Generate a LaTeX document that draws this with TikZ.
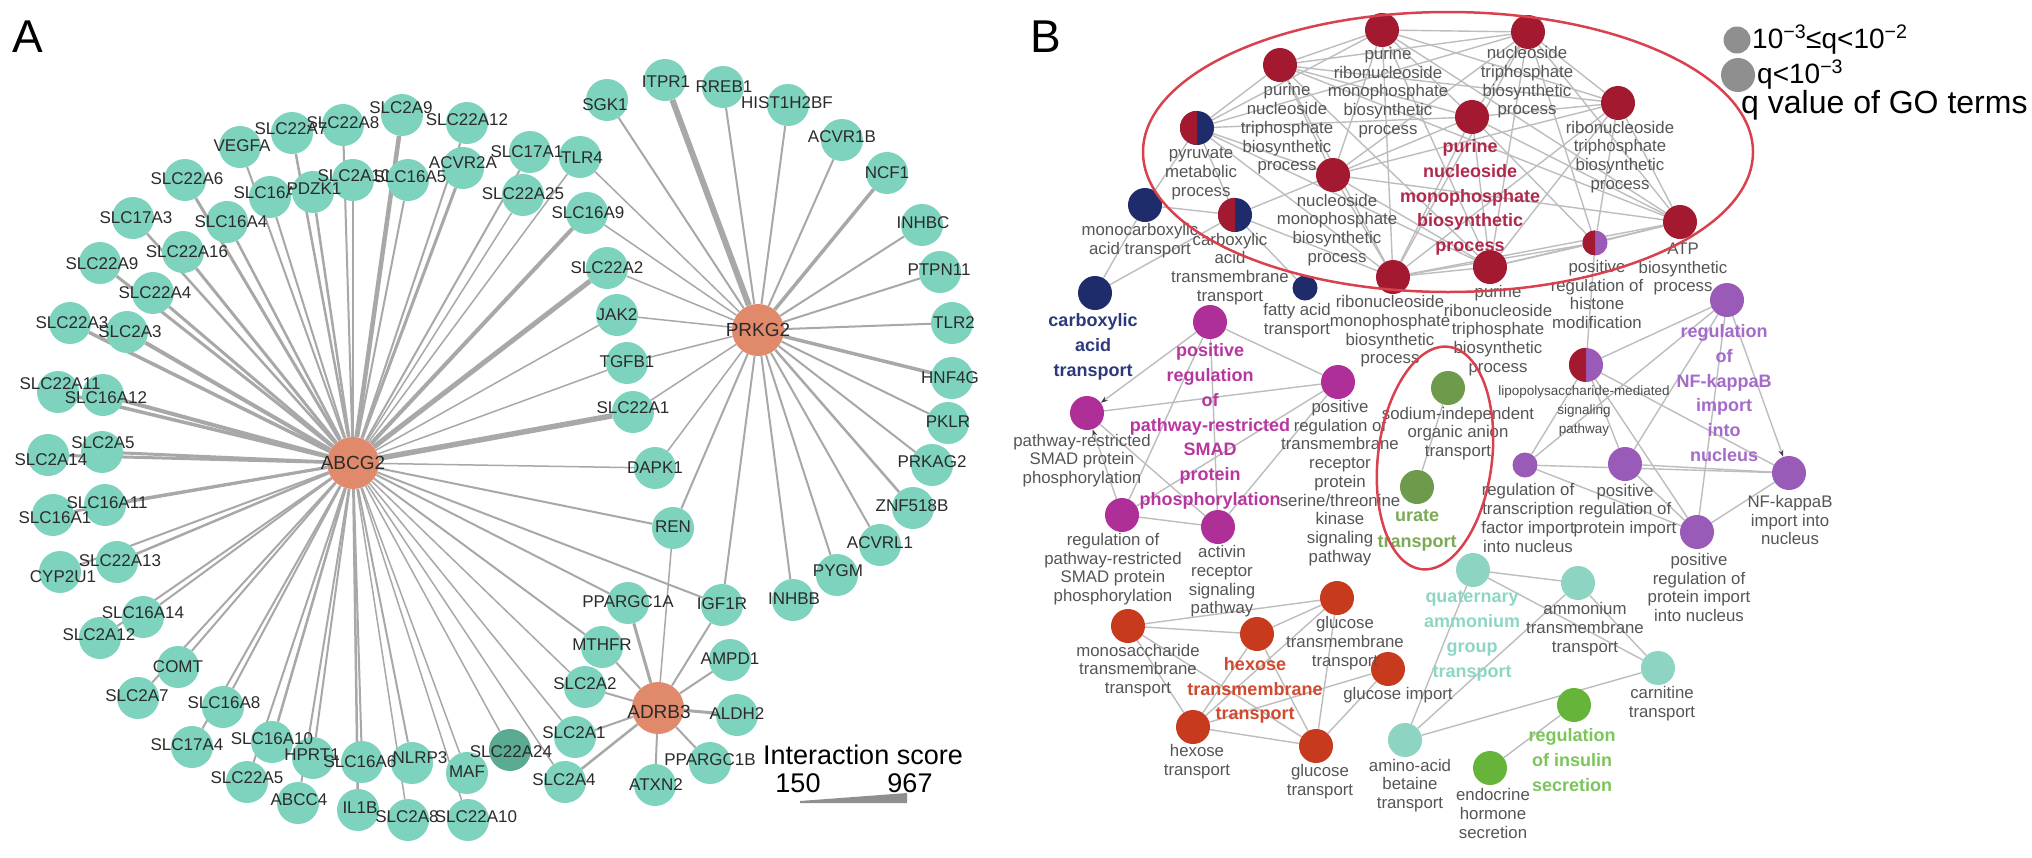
\documentclass[tikz,border=0pt]{standalone}
\usepackage{fontspec}
\setmainfont{Liberation Sans}
\usetikzlibrary{backgrounds,arrows.meta}
\pgfdeclarelayer{background}
\pgfdeclarelayer{foreground}
\pgfsetlayers{background,main,foreground}
\definecolor{tealA}{HTML}{7DD3BD}
\definecolor{tealD}{HTML}{5BAA93}
\definecolor{hubO}{HTML}{E0896B}
\definecolor{gtxt}{HTML}{2B2B2B}
\definecolor{edgeA}{HTML}{A8A8A8}
\definecolor{edgeB}{HTML}{BDBDBD}
\definecolor{lgray}{HTML}{555555}
\definecolor{dred}{HTML}{A3192F}
\definecolor{navyB}{HTML}{1F2C6B}
\definecolor{magB}{HTML}{AE2F97}
\definecolor{purB}{HTML}{9A5AB8}
\definecolor{oliveB}{HTML}{6E9A4B}
\definecolor{greenB}{HTML}{66B53A}
\definecolor{tealB}{HTML}{8ED4C3}
\definecolor{orB}{HTML}{C83A1E}
\definecolor{ellR}{HTML}{D9414E}
\definecolor{legG}{HTML}{8F8F8F}
\definecolor{tR}{HTML}{B1294A}
\definecolor{tN}{HTML}{2C3A7C}
\definecolor{tM}{HTML}{B7379F}
\definecolor{tP}{HTML}{A46BC9}
\definecolor{tG}{HTML}{7BA955}
\definecolor{tO}{HTML}{D04A2F}
\definecolor{tT}{HTML}{8DD6C4}
\definecolor{tGb}{HTML}{7CC55A}
% gene node with label on top layer: name, node position, label position
\newcommand\gnl[3]{\node[gene] (#1) at (#2) {};%
  \begin{pgfonlayer}{foreground}\node[glab] at (#3) {#1};\end{pgfonlayer}}
% gene node whose label may be covered by later circles
\newcommand\gnm[3]{\node[gene] (#1) at (#2) {}; \node[glab] at (#3) {#1};}
\begin{document}
\begin{tikzpicture}[x=1pt,y=-1pt,
 gene/.style={circle,fill=tealA,minimum size=42pt,inner sep=0pt},
 hub/.style={circle,fill=hubO,minimum size=52pt,inner sep=0pt},
 glab/.style={font=\fontsize{17}{17}\selectfont,text=gtxt,inner sep=0pt},
 hlab/.style={font=\fontsize{19}{19}\selectfont,text=gtxt,inner sep=0pt},
 ae/.style={draw=edgeA},
 gon/.style={circle,minimum size=34pt,inner sep=0pt},
 gos/.style={circle,minimum size=25pt,inner sep=0pt},
 lab/.style={align=center,font=\fontsize{16.8}{18.7}\selectfont,text=lgray,inner sep=0pt},
 blab/.style={align=center,font=\bfseries\fontsize{18}{24.8}\selectfont,inner sep=0pt},
 be/.style={draw=edgeB,line width=1.4pt},
 arr/.style={draw=edgeB,line width=1.4pt,-{Stealth[length=7pt,width=5pt,color=black!75]}}
]
\useasboundingbox (0,0) rectangle (2032,857);
% ---------------- Panel A ----------------
\node[font=\fontsize{46}{46}\selectfont] (labA) at (28,37) {A};
\node[font=\fontsize{46}{46}\selectfont] (labB) at (1046,37) {B};
% outer ring
\gnl{SLC22A9}{100,263}{102,264}
\gnl{SLC22A3}{70,323}{72,323}
\gnl{SLC22A11}{58,392}{60,384}
\gnl{SLC2A14}{48,455}{51,460}
\gnl{SLC16A1}{53,515}{55,518}
\gnl{CYP2U1}{60,572}{63,577}
\gnl{SLC2A12}{100,638}{99,635}
\gnl{SLC2A7}{138,698}{137,696}
\gnl{SLC17A4}{192,747}{187,745}
\gnl{SLC22A5}{247,782}{247,778}
\gnl{ABCC4}{298,803}{299,800}
\gnl{IL1B}{358,810}{360,808}
\gnl{SLC2A8}{408,820}{407,817}
\gnl{SLC22A10}{468,820}{476,817}
\gnl{SLC17A3}{133,218}{136,218}
\gnl{SLC22A6}{185,180}{187,179}
\gnl{VEGFA}{240,147}{242,146}
\gnl{SLC22A7}{292,133}{291,129}
\gnl{SLC22A8}{343,125}{343,123}
\gnl{SLC2A9}{402,115}{401,108}
\gnl{SLC22A12}{467,123}{467,120}
% inner ring
\gnl{SLC22A16}{183,252}{187,252}
\gnl{SLC22A4}{153,293}{155,293}
\gnl{SLC2A3}{127,332}{130,332}
\gnl{SLC16A12}{103,395}{106,398}
\gnl{SLC2A5}{102,452}{103,443}
\gnl{SLC16A11}{105,505}{107,503}
\gnl{SLC22A13}{117,562}{120,561}
\gnl{SLC16A14}{143,617}{143,613}
\gnl{COMT}{178,667}{178,667}
\gnl{SLC16A8}{223,707}{224,703}
\gnl{SLC16A10}{272,742}{272,739}
\gnl{HPRT1}{313,758}{312,755}
\gnl{SLC16A6}{362,762}{360,762}
\gnl{NLRP3}{412,763}{420,758}
\gnl{MAF}{467,773}{467,772}
\node[gene,fill=tealD] (SLC22A24) at (510,750) {};
\begin{pgfonlayer}{foreground}\node[glab] at (511,752) {SLC22A24};\end{pgfonlayer}
\gnl{SLC16A4}{227,222}{231,222}
\gnm{SLC16A3}{270,197}{270,193}
\gnl{PDZK1}{313,192}{314,189}
\gnm{SLC2A10}{353,180}{354,176}
\gnl{SLC16A5}{408,180}{410,177}
\gnl{ACVR2A}{463,168}{463,163}
\gnl{SLC17A1}{530,152}{527,152}
\gnl{SLC22A25}{523,195}{523,194}
\gnl{TLR4}{580,157}{582,158}
\gnl{SLC16A9}{587,213}{588,213}
\gnl{SLC22A2}{607,268}{607,268}
% PRKG2 ring
\gnl{SGK1}{607,100}{605,105}
\gnl{ITPR1}{665,80}{666,82}
\gnl{RREB1}{723,87}{724,87}
\gnl{HIST1H2BF}{788,105}{787,103}
\gnl{ACVR1B}{842,140}{842,137}
\gnl{NCF1}{887,173}{887,173}
\gnl{INHBC}{922,225}{923,223}
\gnl{PTPN11}{940,272}{939,270}
\gnl{TLR2}{952,323}{954,323}
\gnl{HNF4G}{952,378}{950,378}
\gnl{PKLR}{948,423}{948,422}
\gnl{PRKAG2}{932,465}{932,462}
\gnl{ZNF518B}{913,508}{912,506}
\gnl{ACVRL1}{880,545}{880,543}
\gnl{PYGM}{837,575}{838,571}
\gnl{INHBB}{793,600}{794,599}
\gnl{JAK2}{617,315}{617,315}
\gnl{TGFB1}{627,363}{627,362}
\gnl{SLC22A1}{633,412}{633,408}
\gnl{DAPK1}{655,468}{655,468}
\gnl{REN}{673,528}{673,527}
\gnl{IGF1R}{722,605}{722,604}
% ADRB3 ring
\gnl{PPARGC1A}{628,603}{628,602}
\gnl{MTHFR}{602,647}{602,645}
\gnl{AMPD1}{730,660}{730,659}
\gnl{SLC2A2}{585,687}{585,684}
\gnl{ALDH2}{737,715}{737,714}
\gnl{SLC2A1}{575,737}{574,733}
\gnl{PPARGC1B}{710,763}{710,760}
\gnl{SLC2A4}{565,782}{564,780}
\gnl{ATXN2}{655,785}{656,785}
% hubs
\node[hub] (ABCG2) at (353,463) {};
\node[hub] (PRKG2) at (758,330) {};
\node[hub] (ADRB3) at (658,708) {};
\begin{pgfonlayer}{foreground}
\node[hlab] at (ABCG2) {ABCG2};
\node[hlab] at (PRKG2) {PRKG2};
\node[hlab] at (659,712) {ADRB3};
\end{pgfonlayer}
% legend A
\node[font=\fontsize{27}{27}\selectfont,inner sep=0pt] (IS) at (863,755) {Interaction score};
\node[font=\fontsize{27}{27}\selectfont,inner sep=0pt] (s150) at (798,783) {150};
\node[font=\fontsize{27}{27}\selectfont,inner sep=0pt] (s967) at (910,783) {967};
\fill[legG] (800,801) -- (907,793) -- (907,803) -- (800,803) -- cycle;

% ---------------- Panel B nodes ----------------
\node[gon,fill=dred] (R1) at (1382,30) {};
\node[gon,fill=dred] (R2) at (1280,65) {};
\node[gon,fill=dred] (R3) at (1528,32) {};
\node[gon,fill=dred] (R4) at (1618,103) {};
\node[gon,fill=dred] (R5) at (1472,117) {};
\node[gon,fill=dred] (R6) at (1333,175) {};
\node[gon,fill=dred] (R7) at (1393,277) {};
\node[gon,fill=dred] (R8) at (1490,267) {};
\node[gon,fill=dred] (R9) at (1680,222) {};
\node[gon,fill=navyB] (S1) at (1197,128) {};
\fill[dred] (S1.north) arc[start angle=90,end angle=270,radius=17pt] -- cycle;
\node[gon,fill=navyB] (S2) at (1235,215) {};
\fill[dred] (S2.north) arc[start angle=90,end angle=270,radius=17pt] -- cycle;
\node[gos,fill=purB] (S3) at (1595,243) {};
\fill[dred] (S3.north) arc[start angle=90,end angle=270,radius=12.5pt] -- cycle;
\node[gon,fill=purB] (S4) at (1586,365) {};
\fill[dred] (S4.north) arc[start angle=90,end angle=270,radius=17pt] -- cycle;
\node[gon,fill=navyB] (MC) at (1145,205) {};
\node[gon,fill=navyB] (CA) at (1095,293) {};
\node[gos,fill=navyB] (FA) at (1305,288) {};
\node[gon,fill=magB] (M1) at (1210,322) {};
\node[gon,fill=magB] (M2) at (1338,382) {};
\node[gon,fill=magB] (M3) at (1087,413) {};
\node[gon,fill=magB] (M4) at (1122,515) {};
\node[gon,fill=magB] (M5) at (1218,527) {};
\node[gon,fill=oliveB] (G1) at (1448,388) {};
\node[gon,fill=oliveB] (G2) at (1417,487) {};
\node[gon,fill=purB] (P1) at (1727,300) {};
\node[gos,fill=purB] (P2) at (1525,465) {};
\node[gon,fill=purB] (P3) at (1625,464) {};
\node[gon,fill=purB] (P4) at (1789,473) {};
\node[gon,fill=purB] (P5) at (1697,532) {};
\node[gon,fill=orB] (O1) at (1128,626) {};
\node[gon,fill=orB] (O2) at (1257,634) {};
\node[gon,fill=orB] (O3) at (1337,598) {};
\node[gon,fill=orB] (O4) at (1388,669) {};
\node[gon,fill=orB] (O5) at (1193,727) {};
\node[gon,fill=orB] (O6) at (1316,746) {};
\node[gon,fill=tealB] (T1) at (1473,570) {};
\node[gon,fill=tealB] (T2) at (1578,583) {};
\node[gon,fill=tealB] (T3) at (1658,668) {};
\node[gon,fill=tealB] (T4) at (1405,740) {};
\node[gon,fill=greenB] (G3) at (1574,705) {};
\node[gon,fill=greenB] (G4) at (1490,768) {};

% ---------------- Panel B labels ----------------
\node[lab] at (1388,92.5) {purine\\ribonucleoside\\monophosphate\\biosynthetic\\process};
\node[lab] at (1287,129) {purine\\nucleoside\\triphosphate\\biosynthetic\\process};
\node[lab] at (1527,82.5) {nucleoside\\triphosphate\\biosynthetic\\process};
\node[lab] at (1620,157) {ribonucleoside\\triphosphate\\biosynthetic\\process};
\node[blab,text=tR] at (1470,197.5) {purine\\nucleoside\\monophosphate\\biosynthetic\\process};
\node[lab] at (1337,230) {nucleoside\\monophosphate\\biosynthetic\\process};
\node[lab] at (1201,174) {pyruvate\\metabolic\\process};
\node[lab] at (1140,241) {monocarboxylic\\acid transport};
\node[lab] at (1230,269) {carboxylic\\acid\\transmembrane\\transport};
\node[lab] at (1390,331.5) {ribonucleoside\\monophosphate\\biosynthetic\\process};
\node[lab] at (1498,330.5) {purine\\ribonucleoside\\triphosphate\\biosynthetic\\process};
\node[lab] at (1297,321) {fatty acid\\transport};
\node[blab,text=tN] at (1093,347) {carboxylic\\acid\\transport};
\node[lab] at (1683,269) {ATP\\biosynthetic\\process};
\node[lab] at (1597,294.5) {positive\\regulation of\\histone\\modification};
\node[blab,text=tM] at (1210,426.5) {positive\\regulation\\of\\pathway-restricted\\SMAD\\protein\\phosphorylation};
\node[lab] at (1340,483) {positive\\regulation of\\transmembrane\\receptor\\protein\\serine/threonine\\kinase\\signaling\\pathway};
\node[lab] at (1082,460.5) {pathway-restricted\\SMAD protein\\phosphorylation};
\node[lab] at (1113,569) {regulation of\\pathway-restricted\\SMAD protein\\phosphorylation};
\node[lab] at (1222,581.5) {activin\\receptor\\signaling\\pathway};
\node[lab] at (1458,433.5) {sodium-independent\\organic anion\\transport};
\node[blab,text=tG,font=\bfseries\fontsize{18}{26}\selectfont] at (1417,530) {urate\\transport};
\node[blab,text=tP] at (1724,393) {regulation\\of\\NF-kappaB\\import\\into\\nucleus};
\node[lab,font=\fontsize{13.5}{19}\selectfont,text=black!70] at (1584,411) {lipopolysaccharide-mediated\\signaling\\pathway};
\node[lab] at (1528,518) {regulation of\\transcription\\factor import\\into nucleus};
\node[lab] at (1625,510.5) {positive\\regulation of\\protein import};
\node[lab] at (1790,520) {NF-kappaB\\import into\\nucleus};
\node[lab] at (1699,587.5) {positive\\regulation of\\protein import\\into nucleus};
\node[lab] at (1138,670.5) {monosaccharide\\transmembrane\\transport};
\node[blab,text=tO] at (1255,690.5) {hexose\\transmembrane\\transport};
\node[lab] at (1345,643) {glucose\\transmembrane\\transport};
\node[lab] at (1398,695) {glucose import};
\node[lab] at (1197,761.5) {hexose\\transport};
\node[lab] at (1320,781.5) {glucose\\transport};
\node[blab,text=tT] at (1472,636) {quaternary\\ammonium\\group\\transport};
\node[lab] at (1585,629) {ammonium\\transmembrane\\transport};
\node[lab] at (1662,703.5) {carnitine\\transport};
\node[lab] at (1410,785.5) {amino-acid\\betaine\\transport};
\node[blab,text=tGb] at (1572,760) {regulation\\of insulin\\secretion};
\node[lab] at (1493,813.5) {endocrine\\hormone\\secretion};

% ellipses
\draw[ellR,line width=2.5pt] (1448,152) ellipse [x radius=305, y radius=140];
\draw[ellR,line width=2.5pt,shift={(1435,458)},rotate=-7] (0,0) ellipse [x radius=57, y radius=112];

% legend B
\node[circle,fill=legG,minimum size=27pt,inner sep=0pt] (L1) at (1737,40) {};
\node[circle,fill=legG,minimum size=34pt,inner sep=0pt] (L2) at (1738,75) {};
\node[anchor=base west,inner sep=0pt,font=\fontsize{28}{28}\selectfont] (Lt1) at (1752,48) {10\textsuperscript{−3}≤q<10\textsuperscript{−2}};
\node[anchor=base west,inner sep=0pt,font=\fontsize{28}{28}\selectfont] (Lt2) at (1757,83) {q<10\textsuperscript{−3}};
\node[anchor=base west,inner sep=0pt,font=\fontsize{32}{32}\selectfont] (Lt3) at (1741,113) {q value of GO terms};

% ---------------- edges ----------------
\begin{pgfonlayer}{background}
\fill[white] (0,0) rectangle (2032,857);
\foreach \n/\w in {VEGFA/2,SLC22A7/2.5,SLC22A8/2,SLC2A9/4.5,SLC22A12/2,SLC22A6/3,SLC16A3/2,PDZK1/2.5,SLC2A10/2.5,SLC16A5/2,ACVR2A/3,SLC17A1/2,SLC22A25/1.5,TLR4/1.5,SLC16A9/4,SLC22A2/5,JAK2/1.5,TGFB1/1.5,SLC22A1/5.5,DAPK1/1.5,REN/2,IGF1R/2,PPARGC1A/2,MTHFR/2,SLC2A2/1.5,SLC2A1/1.5,SLC2A4/1.5,SLC22A24/1.5,MAF/1.5,NLRP3/2,SLC22A10/1.5,SLC2A8/1.5,IL1B/2.5,SLC16A6/2,HPRT1/2,ABCC4/2,SLC16A10/2.5,SLC22A5/2,SLC16A8/2,SLC17A4/2,COMT/2,SLC2A7/2,SLC16A14/2,SLC2A12/2,CYP2U1/2,SLC22A13/2.5,SLC16A1/2.5,SLC16A11/3,SLC2A5/3,SLC2A14/3,SLC16A12/4,SLC22A11/3.5,SLC2A3/4,SLC22A3/3.5,SLC22A4/3,SLC22A9/3,SLC22A16/3,SLC17A3/2.5,SLC16A4/2.5}
  \draw[ae,line width=\w pt] (ABCG2) -- (\n);
\foreach \n/\w in {SGK1/2,ITPR1/6,RREB1/2,HIST1H2BF/2,ACVR1B/2,NCF1/3.5,INHBC/2,PTPN11/2,TLR2/2,HNF4G/3.5,PKLR/2,PRKAG2/2,ZNF518B/2.5,ACVRL1/2,PYGM/2,INHBB/2,IGF1R/2,REN/2,DAPK1/1.5,SLC22A1/1.5,TGFB1/1.5,JAK2/1.5,SLC22A2/1.5,SLC16A9/1.5,TLR4/1.5}
  \draw[ae,line width=\w pt] (PRKG2) -- (\n);
\foreach \n/\w in {PPARGC1A/3,MTHFR/2,SLC2A2/2,SLC2A1/2,SLC2A4/2.5,ATXN2/2,PPARGC1B/2,ALDH2/3,AMPD1/2,IGF1R/2,REN/1.5}
  \draw[ae,line width=\w pt] (ADRB3) -- (\n);
% panel B edges
\foreach \i in {1,...,8}{
  \pgfmathtruncatemacro\j{\i+1}
  \foreach \k in {\j,...,9} \draw[be] (R\i) -- (R\k);
}
\foreach \a/\b in {S1/R1,S1/R2,S1/R3,S1/R5,S1/R6,S1/R7,S1/R8,S1/S2,S1/MC,
  S2/R6,S2/R7,S2/CA,S2/MC,S2/FA,MC/CA,
  S3/R3,S3/R4,S3/R5,S3/R7,S3/R8,S3/R9,S3/S4,
  M1/M2,M1/M4,M1/M5,M2/M3,M2/M4,M2/M5,M3/M5,M4/M5,
  G1/G2,
  P1/S4,P1/P2,P1/P3,P1/P5,S4/P2,S4/P3,S4/P5,S4/P4,P2/P4,P3/P4,P2/P5,P3/P5,P5/P4,
  O1/O2,O1/O3,O1/O5,O1/O6,O2/O3,O2/O5,O2/O6,O3/O5,O3/O6,O4/O5,O4/O6,O5/O6,
  T1/T2,T1/T3,T1/T4,T2/T4,T2/T3,T4/T3,G3/G4}
  \draw[be] (\a) -- (\b);
\draw[arr] (M1) -- (M3);
\draw[arr] (M4) -- (M3);
\draw[arr] (P1) -- (P4);
\end{pgfonlayer}
\end{tikzpicture}
\end{document}
